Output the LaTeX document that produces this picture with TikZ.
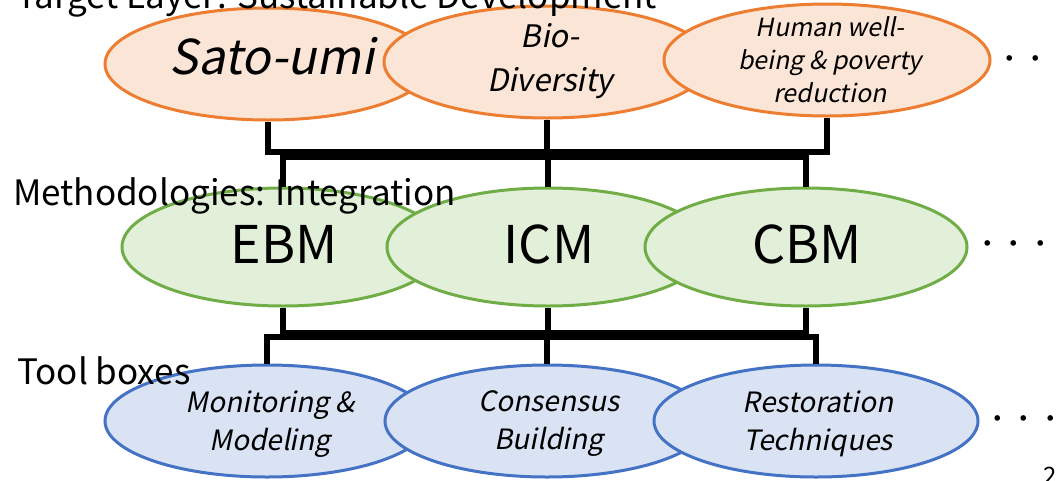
\documentclass[tikz,border=0pt]{standalone}
\usepackage{fontspec}
\setmainfont{Noto Sans CJK JP}[AutoFakeSlant=0.2]
\usetikzlibrary{shapes.geometric}

\definecolor{tgtline}{HTML}{ED7D31}
\definecolor{tgtfill}{HTML}{FBE5D6}
\definecolor{metline}{HTML}{70AD47}
\definecolor{metfill}{HTML}{E2F0D9}
\definecolor{toolline}{HTML}{4472C4}
\definecolor{toolfill}{HTML}{DAE3F3}

\tikzset{
  layer/.style={ellipse, draw, line width=3pt, inner sep=0pt},
  target/.style={layer, draw=tgtline, fill=tgtfill, minimum width=326pt, minimum height=112pt},
  method/.style={layer, draw=metline, fill=metfill, minimum width=322pt, minimum height=118pt},
  tool/.style={layer, draw=toolline, fill=toolfill, minimum width=324pt, minimum height=112pt},
  bus/.style={line width=6.5pt},
  caption/.style={anchor=base west, inner sep=0pt, font=\fontsize{35}{40}\selectfont},
  more/.style={anchor=west, inner sep=0pt, font=\fontsize{26.5}{30}\selectfont},
}

\begin{document}
\begin{tikzpicture}[x=1pt, y=-1pt]
\clip (0,0) rectangle (1058,480);

% target layer
\node[target] (satoumi) at (268,64) {};
\node[target] (bio) at (547,62) {};
\node[target] (human) at (827,60) {};
\node[anchor=base, inner sep=0pt, font=\fontsize{48}{56}\selectfont\itshape] (satoumi-t) at (272,74) {Sato-umi};
\node[align=center, inner sep=0pt, font=\fontsize{31}{44}\selectfont\itshape] (bio-t) at (550,61) {Bio-\\Diversity};
\node[align=center, inner sep=0pt, font=\fontsize{25}{33}\selectfont\itshape] (human-t) at (830,60) {Human well-\\being \& poverty\\reduction};

% methodologies
\node[method] (ebm) at (283,247) {};
\node[method] (icm) at (548,247) {};
\node[method] (cbm) at (806,247) {};
\node[anchor=base, inner sep=0pt, font=\fontsize{52}{60}\selectfont] (ebm-t) at (284,263) {EBM};
\node[anchor=base, inner sep=0pt, font=\fontsize{52}{60}\selectfont] (icm-t) at (549,263) {ICM};
\node[anchor=base, inner sep=0pt, font=\fontsize{52}{60}\selectfont] (cbm-t) at (807,263) {CBM};

% tool boxes
\node[tool] (monitor) at (267,421) {};
\node[tool] (consensus) at (547,421) {};
\node[tool] (restore) at (816,421) {};
\node[align=center, inner sep=0pt, font=\fontsize{28}{38}\selectfont\itshape] (monitor-t) at (270,424) {Monitoring \&\\Modeling};
\node[align=center, inner sep=0pt, font=\fontsize{28}{38}\selectfont\itshape] (consensus-t) at (549,424) {Consensus\\Building};
\node[align=center, inner sep=0pt, font=\fontsize{28}{38}\selectfont\itshape] (restore-t) at (818,424) {Restoration\\Techniques};

% layer captions
\node[caption] (tgt-cap) at (16,8) {Target Layer: Sustainable Development};
\node[caption] (met-cap) at (13,205) {Methodologies: Integration};
\node[caption] (tool-cap) at (17,384) {Tool boxes};

\node[more] (tgt-more) at (996,62) {・・・};
\node[more] (met-more) at (974,247) {・・・};
\node[more] (tool-more) at (984,422) {・・・};
\node[anchor=north west, inner sep=0pt, font=\fontsize{24}{28}\selectfont] (pageno) at (1043,467) {2};

% connectors
\coordinate (topbus) at (0,152);
\coordinate (midbusup) at (0,157);
\coordinate (midbusdown) at (0,333);
\coordinate (toolbus) at (0,337);

\draw[bus] (satoumi.south) -- (satoumi.south |- topbus) -| (human.south);
\draw[bus] (bio.south) -- (bio.south |- topbus);
\draw[bus] (ebm.north) -- (ebm.north |- midbusup) -| (cbm.north);
\draw[bus] (icm.north) -- (icm.north |- midbusup);
\draw[bus] (ebm.south) -- (ebm.south |- midbusdown) -| (cbm.south);
\draw[bus] (icm.south) -- (icm.south |- midbusdown);
\draw[bus] (monitor.north) -- (monitor.north |- toolbus) -| (restore.north);
\draw[bus] (consensus.north) -- (consensus.north |- toolbus);
\end{tikzpicture}
\end{document}
